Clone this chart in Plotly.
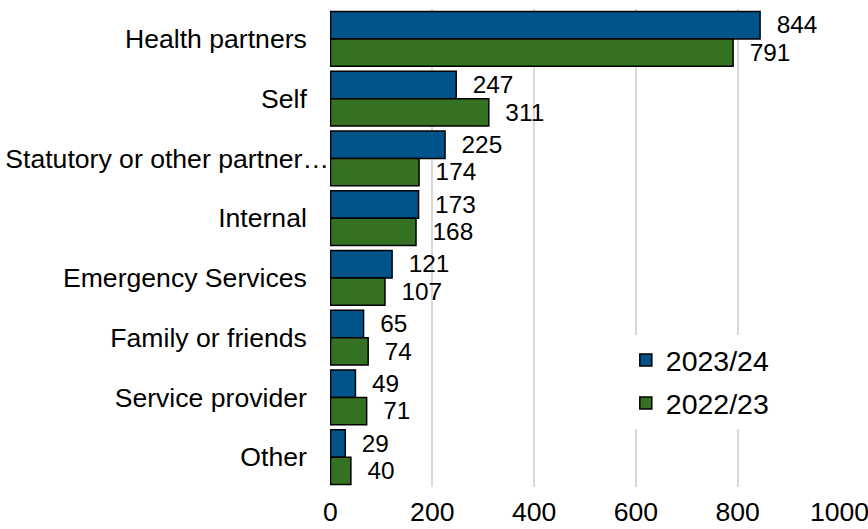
import plotly.graph_objects as go

# Referral sources and counts per year
categories = [
    "Health partners",
    "Self",
    "Statutory or other partner…",
    "Internal",
    "Emergency Services",
    "Family or friends",
    "Service provider",
    "Other",
]
values_2023_24 = [844, 247, 225, 173, 121, 65, 49, 29]
values_2022_23 = [791, 311, 174, 168, 107, 74, 71, 40]
series_names = ["2023/24", "2022/23"]
x_ticks = [0, 200, 400, 600, 800, 1000]

BLUE = "#00548A"
GREEN = "#357123"
FONT = "Liberation Sans, Arial, sans-serif"
SIZE = 26.6

fig = go.Figure()
for name, vals, color in [
    (series_names[0], values_2023_24, BLUE),
    (series_names[1], values_2022_23, GREEN),
]:
    fig.add_trace(
        go.Bar(
            name=name,
            legendgroup=name,
            y=categories,
            x=vals,
            orientation="h",
            marker=dict(color=color, line=dict(color="black", width=1.5)),
            text=vals,
            texttemplate="\u00a0\u00a0%{x}",
            textposition="outside",
            textfont=dict(size=SIZE, color="black", family=FONT),
            cliponaxis=False,
        )
    )

# labels end a little left of the axis, except the truncated one which runs up to it
ticktext = [c if c.endswith("…") else c + "\u00a0\u00a0\u00a0" for c in categories]

fig.update_layout(
    width=868,
    height=529,
    margin=dict(l=330, r=28, t=9, b=42),
    paper_bgcolor="white",
    plot_bgcolor="white",
    barmode="group",
    bargap=0.08,
    bargroupgap=0,
    font=dict(family=FONT, size=SIZE, color="black"),
    showlegend=True,
    legend=dict(
        x=0.58,
        y=0.318,
        xanchor="left",
        yanchor="top",
        bgcolor="white",
        font=dict(size=28.5, color="black"),
        traceorder="grouped",
        tracegroupgap=3,
    ),
    xaxis=dict(
        range=[-1, 1001],
        tickvals=x_ticks,
        showgrid=True,
        gridcolor="#D9D9D9",
        gridwidth=1.5,
        zeroline=False,
        showline=False,
        ticks="",
        tickfont=dict(size=SIZE),
        ticklabelstandoff=6,
        ticklabeloverflow="allow",
        automargin=False,
    ),
    yaxis=dict(
        categoryorder="array",
        categoryarray=categories,
        tickvals=categories,
        ticktext=ticktext,
        autorange="reversed",
        showgrid=False,
        zeroline=False,
        showline=False,
        ticks="",
        tickfont=dict(size=SIZE),
        automargin=False,
    ),
)

fig.write_html("out.html")
